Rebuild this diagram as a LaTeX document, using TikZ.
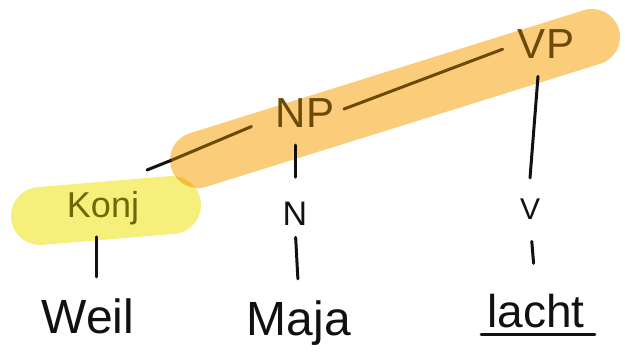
\documentclass[tikz,border=0pt]{standalone}
\usepackage{fontspec}
\setmainfont{Liberation Sans}
\definecolor{hlorange}{RGB}{251,204,122}
\definecolor{hlyellow}{RGB}{247,239,124}
\definecolor{inkbrown}{RGB}{106,74,6}
\definecolor{inkolive}{RGB}{110,104,4}
\definecolor{ink}{RGB}{17,17,17}
\tikzset{
  word/.style={inner sep=0pt, anchor=base, text=ink},
  cat/.style={inner sep=0pt, anchor=base},
  stem/.style={draw=ink, line width=1.5pt, line cap=round},
  stemhl/.style={draw=inkbrown, line width=1.5pt, line cap=round},
  marker/.style={line width=#1, line cap=round},
}
\begin{document}
\begin{tikzpicture}[x=0.5pt, y=-0.5pt]
\useasboundingbox (0,0) rectangle (625,359);
\fill[white] (0,0) rectangle (625,359);

% highlighter strokes
\begin{scope}[blend group=multiply]
  \draw[marker=29pt, hlyellow] (40,216) -- (172,205);
  \draw[marker=28pt, hlorange] (198,160) -- (592,37);
\end{scope}

% category labels
\node[cat, text=inkbrown, font=\fontsize{21}{24}\selectfont] (VP) at (546,58) {VP};
\node[cat, text=inkbrown, font=\fontsize{21}{24}\selectfont] (NP) at (305,127) {NP};
\node[cat, text=inkolive, font=\fontsize{18}{21}\selectfont] (Konj) at (103,217) {Konj};
\node[cat, text=ink, font=\fontsize{17}{20}\selectfont] (N) at (295,225) {N};
\node[cat, text=ink, font=\fontsize{15}{18}\selectfont] (V) at (530,219) {V};

% words
\node[word, font=\fontsize{24}{28}\selectfont] (Weil) at (88,333) {Weil};
\node[word, font=\fontsize{24}{28}\selectfont] (Maja) at (299,335) {Maja};
\node[word, font=\fontsize{23}{27}\selectfont] (lacht) at (536,327) {lacht};

% branch to the left of NP
\coordinate (lefttip) at (147,170);
\coordinate (edge) at (172,160);
\draw[stem] (lefttip) -- (edge);
\draw[stemhl] (edge) -- ([shift={(-12pt,-7pt)}]NP.west);

% NP -- VP
\draw[stemhl, shorten <=5pt, shorten >=8pt] (NP.east) -- (VP.west);

% vertical branches
\draw[stem] ([yshift=28pt]N.north) -- ([yshift=12pt]N.north);
\draw[stem] ([shift={(-4pt,-9pt)}]VP.south) -- ([shift={(0pt,10pt)}]V.north);
\draw[stem, shorten <=6pt, shorten >=10.5pt] ([xshift=-3.5pt]Konj.south) -- ([xshift=4pt]Weil.north);
\draw[stem, shorten <=6pt, shorten >=10.5pt] (N.south) -- (Maja.north);
\draw[stem, shorten <=11pt, shorten >=15pt] (V.south) -- (lacht.north);

% underline of the verb
\draw[stem] ([shift={(-3pt,-3.5pt)}]lacht.base west) -- ([shift={(5pt,-3.5pt)}]lacht.base east);
\end{tikzpicture}
\end{document}
